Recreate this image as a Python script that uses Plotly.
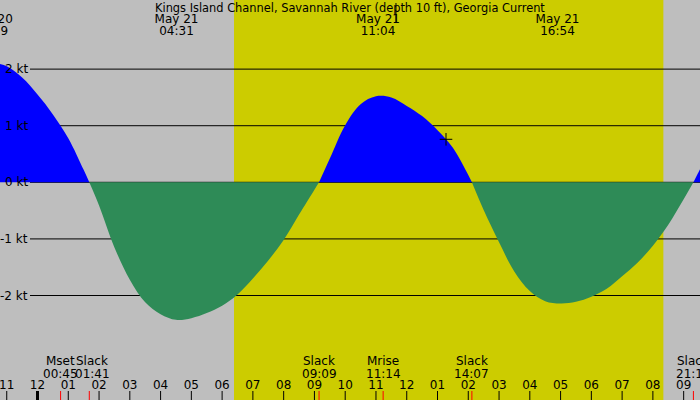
'''
Tidal current chart - Kings Island Channel, Savannah River
'''

import plotly.graph_objects as go

# Curve readings: hours from midnight May 21 (negative = May 20), speed in knots
curve_hours = [-1.5, -1.0, -0.5, 0.0, 0.5, 1.0, 1.5, 1.683,
               2.0, 2.5, 3.0, 3.5, 4.0, 4.5, 5.0, 5.5, 6.0, 6.5, 7.0, 7.5, 8.0, 8.5, 9.0, 9.15,
               9.5, 10.0, 10.5, 11.0, 11.5, 12.0, 12.5, 13.0, 13.5, 14.0, 14.117,
               14.5, 15.0, 15.5, 16.0, 16.5, 17.0, 17.5, 18.0, 18.5, 19.0, 19.5, 20.0, 20.5,
               21.0, 21.317,
               21.55]
curve_kt = [2.12, 2.05, 1.85, 1.55, 1.2, 0.78, 0.22, 0.0,
            -0.41, -1.15, -1.72, -2.12, -2.33, -2.43, -2.4, -2.31, -2.18, -1.98, -1.7, -1.38,
            -1.02, -0.57, -0.13, 0.0,
            0.42, 1.01, 1.38, 1.52, 1.5, 1.35, 1.17, 0.92, 0.61, 0.13, 0.0,
            -0.49, -1.06, -1.58, -1.92, -2.1, -2.14, -2.11, -2.02, -1.88, -1.66, -1.42, -1.12,
            -0.75, -0.3, 0.0,
            0.25]

# max flood / max ebb labels along the top
peak_hours = [-1.517, 4.517, 11.067, 16.9]
peak_dates = ["May 20", "May 21", "May 21", "May 21"]
peak_times = ["22:29", "04:31", "11:04", "16:54"]

# events along the bottom (slack water, moon set/rise)
event_hours = [0.75, 1.683, 9.15, 11.233, 14.117, 21.317]
event_names = ["Mset", "Slack", "Slack", "Mrise", "Slack", "Slack"]
event_times = ["00:45", "01:41", "09:09", "11:14", "14:07", "21:19"]

# daylight
sunrise_hour = 6.386
sunset_hour = 20.34

# hour ticks
tick_hours = list(range(-1, 22))
tick_labels = ["%02d" % ((h % 12) or 12) for h in tick_hours]

# knot gridlines
grid_kt = [2, 1, 0, -1, -2]
grid_labels = ["2 kt", "1 kt", "0 kt", "-1 kt", "-2 kt"]

# current time marker
now_hour = 13.276
now_kt = 0.76
top_mark_hour = 11.65

title = "Kings Island Channel, Savannah River (depth 10 ft), Georgia Current"

GRAY = "#bebebe"
DAY = "#cccc00"
FLOOD = "#0000ff"
EBB = "#2e8b57"
FONT = dict(family="DejaVu Sans", size=12, color="black")

fig = go.Figure()

# Split curve into flood / ebb segments at slack points
segments = []
seg_t, seg_v = [curve_hours[0]], [curve_kt[0]]
for t, v in zip(curve_hours[1:], curve_kt[1:]):
    seg_t.append(t)
    seg_v.append(v)
    if v == 0:
        segments.append((seg_t, seg_v))
        seg_t, seg_v = [t], [v]
segments.append((seg_t, seg_v))

for st, sv in segments:
    colour = FLOOD if max(sv) > 0 else EBB
    fig.add_trace(go.Scatter(x=st, y=sv, mode="lines", fill="tozeroy",
                             line=dict(shape="spline", smoothing=1, width=0, color=colour),
                             fillcolor=colour, hoverinfo="skip"))

# current time cross
fig.add_trace(go.Scatter(x=[now_hour], y=[now_kt], mode="markers",
                         marker=dict(symbol="cross-thin", size=9,
                                     line=dict(color="black", width=1)),
                         hoverinfo="skip"))

# Labels on a pixel-row axis (y2)
fig.add_trace(go.Scatter(x=peak_hours, y=[20] * len(peak_hours), yaxis="y2",
                         mode="text", text=peak_dates, textfont=FONT, hoverinfo="skip"))
fig.add_trace(go.Scatter(x=peak_hours, y=[32] * len(peak_hours), yaxis="y2",
                         mode="text", text=peak_times, textfont=FONT, hoverinfo="skip"))
fig.add_trace(go.Scatter(x=tick_hours, y=[385.5] * len(tick_hours), yaxis="y2",
                         mode="text", text=tick_labels, textfont=FONT, hoverinfo="skip"))

shapes = []
# daylight band
shapes.append(dict(type="rect", xref="x", yref="paper", x0=sunrise_hour, x1=sunset_hour,
                   y0=0, y1=1, fillcolor=DAY, line=dict(width=0), layer="below"))
# gridlines
for k in grid_kt:
    shapes.append(dict(type="line", xref="paper", yref="y", x0=30 / 700, x1=1, y0=k, y1=k,
                       line=dict(color="black", width=1), layer="below"))
# hour ticks
for h in tick_hours:
    shapes.append(dict(type="line", xref="x", yref="y2", x0=h, x1=h, y0=391, y1=400,
                       line=dict(color="black", width=3 if h == 0 else 1)))
# event ticks
for h in event_hours:
    shapes.append(dict(type="line", xref="x", yref="y2", x0=h, x1=h, y0=391, y1=400,
                       line=dict(color="red", width=1)))
# small mark at top
shapes.append(dict(type="line", xref="x", yref="y2", x0=top_mark_hour, x1=top_mark_hour,
                   y0=3, y1=22.5, line=dict(color="black", width=1)))

annotations = [dict(text=title, xref="paper", yref="y2", x=0.5, y=8, showarrow=False,
                    font=dict(FONT, size=11.4), xanchor="center", yanchor="middle")]
for k, lab in zip(grid_kt, grid_labels):
    annotations.append(dict(text=lab, xref="paper", yref="y", x=28.5 / 700, y=k,
                            showarrow=False, font=FONT, xanchor="right", yanchor="middle",
                            borderpad=0))

# bottom event labels; nudge a label right if it crowds the previous one
prev_h = None
for h, name, tm in zip(event_hours, event_names, event_times):
    shift = 3 if prev_h is not None and h - prev_h < 1.1 else 0
    for row, txt in ((361, name), (374, tm)):
        annotations.append(dict(text=txt, xref="x", yref="y2", x=h, y=row, xshift=shift,
                                showarrow=False, font=FONT, xanchor="center",
                                yanchor="middle", borderpad=0))
    prev_h = h

fig.update_layout(
    width=700, height=400,
    margin=dict(l=0, r=0, t=0, b=0),
    paper_bgcolor=GRAY, plot_bgcolor=GRAY,
    showlegend=False,
    font=FONT,
    xaxis=dict(range=[-1.219, 21.531], visible=False),
    yaxis=dict(range=[-3.846, 3.221], visible=False),
    yaxis2=dict(range=[400, 0], overlaying="y", visible=False),
    shapes=shapes,
    annotations=annotations,
)

fig.write_html("out.html", config=dict(displayModeBar=False),
               post_script="document.body.style.margin='0px';")
